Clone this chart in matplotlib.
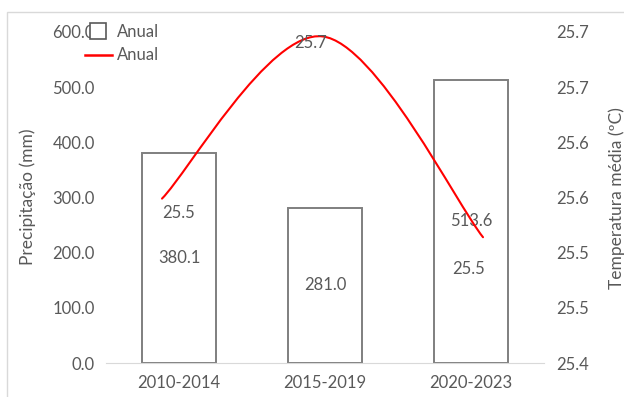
import numpy as np
import matplotlib.pyplot as plt
from matplotlib.path import Path
from matplotlib.patches import PathPatch, Rectangle
from matplotlib.lines import Line2D

plt.rcParams['font.family'] = ['Lato', 'DejaVu Sans']

periods = ["2010-2014", "2015-2019", "2020-2023"]
precip = [380.1, 281.0, 513.6]          # mm
temp = [25.549, 25.696, 25.514]         # ºC

precip_ticks = [0, 100, 200, 300, 400, 500, 600]
temp_ticks = [25.40, 25.45, 25.50, 25.55, 25.60, 25.65, 25.70]
temp_tick_labels = ["25.4", "25.5", "25.5", "25.6", "25.6", "25.7", "25.7"]

GREY = '#595959'
FS = 12
W, H = 624, 397


def px_box(x0, y0, x1, y1):
    # pixel box (top-left origin) -> figure fraction rect
    return [x0 / W, 1 - y1 / H, (x1 - x0) / W, (y1 - y0) / H]


def smooth_path(xs, ys):
    # bezier smoothing through the points, tangent = (next - prev) / 6
    pts = np.column_stack([xs, ys]).astype(float)
    n = len(pts)
    verts = [pts[0]]
    codes = [Path.MOVETO]
    for i in range(n - 1):
        p_prev = pts[max(i - 1, 0)]
        p_next2 = pts[min(i + 2, n - 1)]
        c1 = pts[i] + (pts[i + 1] - p_prev) / 6
        c2 = pts[i + 1] - (p_next2 - pts[i]) / 6
        verts += [c1, c2, pts[i + 1]]
        codes += [Path.CURVE4] * 3
    return Path(verts, codes)


fig = plt.figure(figsize=(6.24, 3.97), dpi=100)

# light outer frame
fig.patches.append(Rectangle((7 / W, -0.1), 1.2, (H - 12) / H + 0.1,
                             transform=fig.transFigure, fill=False,
                             edgecolor='#d9d9d9', lw=1))

ax = fig.add_axes(px_box(106, 32, 544, 363))
x = np.arange(len(periods))
bars = ax.bar(x, precip, width=0.51, facecolor='white', edgecolor='#7f7f7f', lw=1.4)
ax.set_xlim(-0.5, 2.5)
ax.set_ylim(0, 600)
ax.set_yticks(precip_ticks)
ax.set_yticklabels([f"{v:.1f}" for v in precip_ticks])
ax.set_xticks(x)
ax.set_xticklabels(periods)
for s in ['top', 'left', 'right']:
    ax.spines[s].set_visible(False)
ax.spines['bottom'].set_color('#d9d9d9')
ax.tick_params(axis='y', length=0, pad=8, labelsize=FS, labelcolor=GREY)
ax.tick_params(axis='x', length=0, pad=9, labelsize=FS, labelcolor=GREY)

for xi, v in zip(x, precip):
    ax.text(xi, v / 2, f"{v:.1f}", ha='center', va='center', fontsize=FS, color=GREY)

# temperature axis on the right
ax2 = ax.twinx()
ax2.set_ylim(25.4, 25.7)
ax2.set_yticks(temp_ticks)
ax2.set_yticklabels(temp_tick_labels)
for s in ax2.spines.values():
    s.set_visible(False)
ax2.tick_params(axis='y', length=0, pad=9, labelsize=FS, labelcolor=GREY)

# line series uses its own horizontal scale
ax3 = fig.add_axes(px_box(106, 32, 544, 363))
ax3.set_xlim(-0.349, 2.38)
ax3.set_ylim(25.4, 25.7)
ax3.axis('off')
ax3.patch.set_alpha(0)
tx = np.arange(len(temp))
ax3.add_patch(PathPatch(smooth_path(tx, temp), fill=False, edgecolor='#ff0000',
                        lw=1.5, capstyle='round'))

label_offsets = [(17, -14), (-12, -7), (-14, -32)]
for xi, v, off in zip(tx, temp, label_offsets):
    ax3.annotate(f"{v:.1f}", (xi, v), xytext=off, textcoords='offset pixels',
                 ha='center', va='center', fontsize=FS, color=GREY)

fig.text(28 / W, 1 - 197 / H, "Precipitação (mm)", rotation=90, ha='center',
         va='center', fontsize=12.5, color=GREY)
fig.text(617 / W, 1 - 198 / H, "Temperatura média (ºC)", rotation=90, ha='center',
         va='center', fontsize=12.5, color=GREY)

handles = [Line2D([], [], ls='none', marker='s', markersize=12,
                  markerfacecolor='white', markeredgecolor=GREY, markeredgewidth=1.2),
           Line2D([], [], color='#ff0000', lw=1.8)]
fig.legend(handles, ["Anual", "Anual"], loc='upper left',
           bbox_to_anchor=(85 / W, 1 - 24 / H), frameon=False, fontsize=FS,
           labelcolor=GREY, handlelength=1.6, handletextpad=0.3, labelspacing=0.45,
           borderpad=0, borderaxespad=0)

fig.savefig('out.png', dpi=100)
